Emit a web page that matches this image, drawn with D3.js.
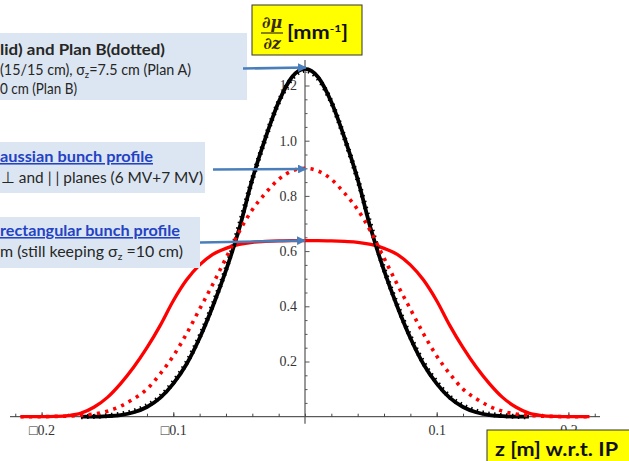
<!DOCTYPE html>
<html>
<head>
<meta charset="utf-8">
<script src="https://cdn.jsdelivr.net/npm/d3@7"></script>
<style>
  body { margin: 0; background: #fff; }
  svg { display: block; }
  .tick text { font-family: "Liberation Serif", "DejaVu Serif", serif; font-size: 14px; fill: #333; }
  .note { font-family: Lato, "Open Sans", sans-serif; fill: #262626; }
  .link { fill: #2442c4; font-weight: bold; text-decoration: underline; }
</style>
</head>
<body>
<div id="chart"></div>
<script>
// z positions (m)
var zGrid = [-0.216, -0.21, -0.2, -0.19, -0.18, -0.17, -0.16, -0.15, -0.14, -0.13, -0.12, -0.11, -0.1,
  -0.09, -0.08, -0.07, -0.06, -0.05, -0.04, -0.03, -0.02, -0.01, 0,
  0.01, 0.02, 0.03, 0.04, 0.05, 0.06, 0.07, 0.08, 0.09, 0.1, 0.11, 0.12,
  0.13, 0.14, 0.15, 0.16, 0.17, 0.18, 0.19, 0.2, 0.21, 0.216];

// Plan A, gaussian (black solid)
var blackSolid = [null, null, null, null, null, 0, 0, 0.002, 0.006, 0.016, 0.035, 0.068, 0.12,
  0.19, 0.285, 0.40, 0.53, 0.68, 0.86, 1.01, 1.14, 1.23, 1.26,
  1.23, 1.14, 1.01, 0.86, 0.68, 0.53, 0.40, 0.285, 0.19, 0.12, 0.068, 0.035,
  0.016, 0.006, 0.002, 0, 0, null, null, null, null, null];

// Plan B, gaussian (black dotted)
var blackDotted = [null, null, null, null, null, 0, 0.001, 0.004, 0.009, 0.02, 0.04, 0.072, 0.125,
  0.195, 0.29, 0.405, 0.535, 0.69, 0.86, 1.01, 1.14, 1.225, 1.255,
  1.225, 1.14, 1.01, 0.86, 0.69, 0.535, 0.405, 0.29, 0.195, 0.125, 0.072, 0.04,
  0.02, 0.009, 0.004, 0.001, 0, null, null, null, null, null];

// gaussian, 6 MV + 7 MV (red dotted)
var redDotted = [0, 0, 0, 0.001, 0.002, 0.005, 0.01, 0.02, 0.038, 0.065, 0.10, 0.155, 0.22,
  0.30, 0.39, 0.48, 0.575, 0.67, 0.75, 0.81, 0.86, 0.89, 0.90,
  0.89, 0.86, 0.81, 0.75, 0.67, 0.575, 0.48, 0.39, 0.30, 0.22, 0.155, 0.10,
  0.065, 0.038, 0.02, 0.01, 0.005, 0.002, 0.001, 0, 0, 0];

// rectangular bunch profile (red solid)
var redSolid = [0, 0, 0, 0.001, 0.004, 0.013, 0.035, 0.07, 0.12, 0.18, 0.25, 0.33, 0.42,
  0.495, 0.55, 0.588, 0.61, 0.624, 0.632, 0.635, 0.637, 0.638, 0.638,
  0.638, 0.637, 0.635, 0.632, 0.624, 0.61, 0.588, 0.55, 0.495, 0.42, 0.33, 0.25,
  0.18, 0.12, 0.07, 0.035, 0.013, 0.004, 0.001, 0, 0, 0];

var xTicks = [-0.2, -0.1, 0.1, 0.2];
var xMinorTicks = [-0.22, -0.2, -0.18, -0.16, -0.14, -0.12, -0.1, -0.08, -0.06, -0.04, -0.02, 0,
  0.02, 0.04, 0.06, 0.08, 0.1, 0.12, 0.14, 0.16, 0.18, 0.2, 0.22];
var yTicks = [0.2, 0.4, 0.6, 0.8, 1.0, 1.2];
var yMinorTicks = [0.05, 0.1, 0.15, 0.25, 0.3, 0.35, 0.45, 0.5, 0.55, 0.65, 0.7, 0.75,
  0.85, 0.9, 0.95, 1.05, 1.1, 1.15, 1.25];

var svgWidth = 629;
var svgHeight = 461;

var svg = d3.select("#chart")
  .append("svg")
  .attr("width", svgWidth)
  .attr("height", svgHeight);

var xScale = d3.scaleLinear().domain([-0.2, 0.2]).range([41.6, 568.4]);
var yScale = d3.scaleLinear().domain([0, 1.2]).range([416.7, 85.5]);
var x0 = xScale(0);
var y0 = yScale(0);

// axes
var xAxis = svg.append("g")
  .attr("transform", `translate(0, ${y0})`)
  .call(d3.axisBottom(xScale)
    .tickValues(xTicks)
    .tickSize(-4.5)
    .tickPadding(8)
    .tickFormat(d => (d < 0 ? "\u25A1" : "") + d3.format(".1f")(Math.abs(d))));
xAxis.select(".domain").remove();
xAxis.selectAll("line").attr("stroke", "#444");

svg.append("g")
  .attr("transform", `translate(0, ${y0})`)
  .call(d3.axisBottom(xScale).tickValues(xMinorTicks).tickSize(-3).tickFormat(""))
  .call(g => g.select(".domain").remove())
  .selectAll("line").attr("stroke", "#444");

svg.append("line")
  .attr("x1", 10).attr("x2", 600)
  .attr("y1", y0).attr("y2", y0)
  .attr("stroke", "#333").attr("stroke-width", 1);

var yAxis = svg.append("g")
  .attr("transform", `translate(${x0}, 0)`)
  .call(d3.axisLeft(yScale)
    .tickValues(yTicks)
    .tickSize(-4.5)
    .tickPadding(8)
    .tickFormat(d3.format(".1f")));
yAxis.select(".domain").remove();
yAxis.selectAll("line").attr("stroke", "#555");

svg.append("g")
  .attr("transform", `translate(${x0}, 0)`)
  .call(d3.axisLeft(yScale).tickValues(yMinorTicks).tickSize(-2.5).tickFormat(""))
  .call(g => g.select(".domain").remove())
  .selectAll("line").attr("stroke", "#555");

svg.append("line")
  .attr("x1", x0).attr("x2", x0)
  .attr("y1", 60).attr("y2", y0 + 7)
  .attr("stroke", "#555").attr("stroke-width", 1.2);

// curves
function drawCurve(values, color, width, dash) {
  var line = d3.line()
    .defined(d => d[1] !== null)
    .x(d => xScale(d[0]))
    .y(d => yScale(d[1]))
    .curve(d3.curveMonotoneX);
  svg.append("path")
    .datum(zGrid.map((z, i) => [z, values[i]]))
    .attr("d", line)
    .attr("fill", "none")
    .attr("stroke", color)
    .attr("stroke-width", width)
    .attr("stroke-dasharray", dash)
    .attr("stroke-linejoin", "round");
}

drawCurve(redSolid, "#ff0000", 3.3, null);
drawCurve(blackSolid, "#000", 3.8, null);
drawCurve(blackDotted, "#000", 5, "1.5,4.5");
drawCurve(redDotted, "#ff0000", 3.6, "3.2,5.3");

// note boxes
var boxFill = "#dce6f2";
svg.append("rect").attr("x", 0).attr("y", 33).attr("width", 247).attr("height", 67).attr("fill", boxFill);
svg.append("rect").attr("x", 0).attr("y", 142).attr("width", 205).attr("height", 51).attr("fill", boxFill);
svg.append("rect").attr("x", 0).attr("y", 217).attr("width", 200).attr("height", 51).attr("fill", boxFill);

function note(x, y, size, len, bold, cls) {
  return svg.append("text")
    .attr("class", "note" + (cls ? " " + cls : ""))
    .attr("x", x).attr("y", y)
    .attr("font-size", size)
    .attr("font-weight", bold ? "bold" : "normal")
    .attr("textLength", len)
    .attr("lengthAdjust", "spacingAndGlyphs");
}

note(0, 55, 15.5, 165, true).text("lid) and Plan B(dotted)");
var l2 = note(0, 75, 15, 191, false);
l2.append("tspan").text("(15/15 cm), \u03C3");
l2.append("tspan").attr("font-size", 10).attr("dy", 3).text("z");
l2.append("tspan").attr("dy", -3).text("=7.5  cm (Plan A)");
note(0, 94, 15, 77, false).text("0 cm (Plan B)");

note(0, 162, 15.5, 153, true, "link").text("aussian bunch profile");
note(1, 183, 15.5, 202, false).text("\u22A5 and | | planes (6 MV+7 MV)");

note(0, 236, 15.5, 180, true, "link").text("rectangular bunch profile");
var l6 = note(0, 257, 15.5, 183, false);
l6.append("tspan").text("m (still keeping \u03C3");
l6.append("tspan").attr("font-size", 10).attr("dy", 3).text("z");
l6.append("tspan").attr("dy", -3).text(" =10 cm)");

// arrows
var defs = svg.append("defs");
defs.append("marker")
  .attr("id", "head")
  .attr("viewBox", "0 0 10 10")
  .attr("refX", 9).attr("refY", 5)
  .attr("markerWidth", 4.2).attr("markerHeight", 3.4)
  .attr("orient", "auto")
  .append("path").attr("d", "M0,0L10,5L0,10Z").attr("fill", "#4a7ebb");

var arrows = [[243, 68.5, 306, 67.5], [213, 169.5, 306, 169], [200, 242.5, 305, 240.5]];
svg.selectAll(".arrow").data(arrows).enter().append("line")
  .attr("class", "arrow")
  .attr("x1", d => d[0]).attr("y1", d => d[1])
  .attr("x2", d => d[2]).attr("y2", d => d[3])
  .attr("stroke", "#4a7ebb").attr("stroke-width", 2.6)
  .attr("marker-end", "url(#head)");

// axis label boxes
svg.append("rect").attr("x", 252).attr("y", 5).attr("width", 110).attr("height", 50)
  .attr("fill", "#ffff00").attr("stroke", "#333").attr("stroke-width", 1);
svg.append("text").attr("x", 272).attr("y", 28).attr("text-anchor", "middle")
  .attr("font-family", "'DejaVu Serif', serif").attr("font-style", "italic").attr("font-weight", "bold")
  .attr("font-size", 16).attr("fill", "#3a2a00").text("\u2202\u03BC");
svg.append("line").attr("x1", 261).attr("x2", 283).attr("y1", 33).attr("y2", 33)
  .attr("stroke", "#3a2a00").attr("stroke-width", 1.2);
svg.append("text").attr("x", 272).attr("y", 49).attr("text-anchor", "middle")
  .attr("font-family", "'DejaVu Serif', serif").attr("font-style", "italic").attr("font-weight", "bold")
  .attr("font-size", 16).attr("fill", "#3a2a00").text("\u2202z");
var yl = svg.append("text").attr("x", 287).attr("y", 39)
  .attr("font-family", "Lato, 'Open Sans', sans-serif").attr("font-weight", "bold")
  .attr("font-size", 18).attr("fill", "#111")
  .attr("textLength", 61).attr("lengthAdjust", "spacingAndGlyphs");
yl.append("tspan").text("[mm");
yl.append("tspan").attr("font-size", 10).attr("dy", -7).text("-1");
yl.append("tspan").attr("dy", 7).text("]");

svg.append("rect").attr("x", 487).attr("y", 430).attr("width", 150).attr("height", 40)
  .attr("fill", "#ffff00").attr("stroke", "#333").attr("stroke-width", 1);
svg.append("text").attr("x", 495).attr("y", 456)
  .attr("font-family", "Lato, 'Open Sans', sans-serif").attr("font-weight", "bold")
  .attr("font-size", 18).attr("fill", "#111")
  .attr("textLength", 123).attr("lengthAdjust", "spacingAndGlyphs")
  .text("z [m] w.r.t. IP");
</script>
</body>
</html>
